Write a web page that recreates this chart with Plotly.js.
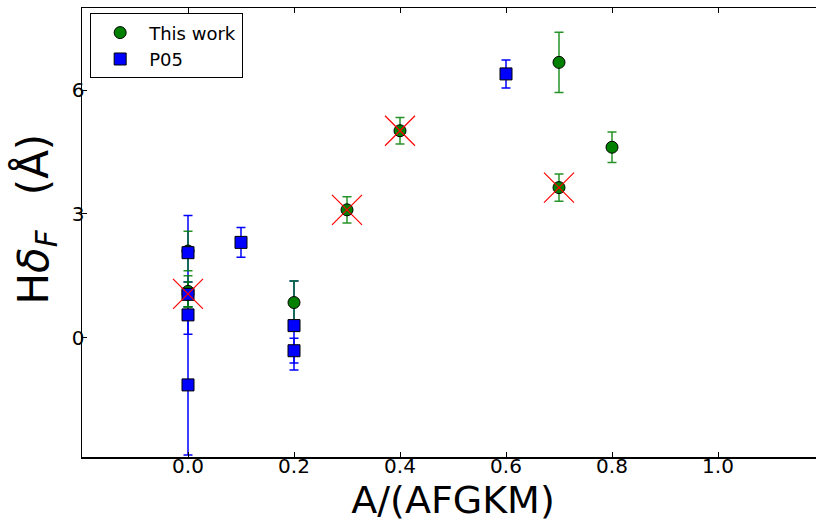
<!DOCTYPE html>
<html>
<head>
<meta charset="utf-8">
<script src="https://cdn.plot.ly/plotly-3.0.1.min.js"></script>
<style>
html,body{margin:0;padding:0;overflow:hidden;background:#fff;}
#chart{width:824px;height:522px;}
</style>
</head>
<body>
<div id="chart"></div>
<script>
// "This work" (green circles)
var workX   = [0, 0, 0, 0.2, 0.3, 0.4, 0.7, 0.7, 0.8];
var workY   = [2.1, 1.12, 1.05, 0.85, 3.1, 5.02, 6.68, 3.64, 4.62];
var workErr = [0.48, 0.38, 0.3, 0.52, 0.32, 0.32, 0.73, 0.33, 0.37];

// "P05" (blue squares)
var p05X   = [0, 0, 0, 0, 0.1, 0.2, 0.2, 0.6];
var p05Y   = [2.06, 1.05, 0.55, -1.15, 2.31, 0.29, -0.32, 6.4];
var p05Err = [0.9, 0.3, 0.47, 1.7, 0.36, 1.08, 0.3, 0.34];

// crossed-out points (red X)
var crossX = [0, 0.3, 0.4, 0.7];
var crossY = [1.06, 3.1, 5.02, 3.64];

// tick labels
var xTickVals = [0, 0.2, 0.4, 0.6, 0.8, 1.0];
var xTickText = ['0.0', '0.2', '0.4', '0.6', '0.8', '1.0'];
var yTickVals = [0, 3, 6];
var yTickText = ['0', '3', '6'];

var traces = [
  { // P05 error bars (drawn beneath)
    x: p05X, y: p05Y, type: 'scatter', mode: 'markers',
    marker: {size: 1, opacity: 0, color: '#0000ff'},
    error_y: {type: 'data', array: p05Err, visible: true, color: '#0000ff', thickness: 1.5, width: 4.5},
    showlegend: false, hoverinfo: 'skip'
  },
  {
    x: workX, y: workY, type: 'scatter', mode: 'markers', name: 'This work',
    marker: {symbol: 'circle', size: 12, color: '#008000', line: {color: '#000000', width: 1}},
    error_y: {type: 'data', array: workErr, visible: true, color: 'rgba(0,128,0,0.85)', thickness: 1.5, width: 4.5}
  },
  {
    x: p05X, y: p05Y, type: 'scatter', mode: 'markers', name: 'P05',
    marker: {symbol: 'square', size: 12, color: '#0000ff', line: {color: '#000000', width: 1}}
  },
  {
    x: crossX, y: crossY, type: 'scatter', mode: 'markers', showlegend: false,
    marker: {symbol: 'x-thin', size: 30, color: '#ff0000', line: {color: '#ff0000', width: 1.2}}
  }
];

var axisCommon = {
  showgrid: false, zeroline: false, showline: true, linecolor: '#000', linewidth: 1.5,
  mirror: 'ticks', ticks: 'inside', ticklen: 5, tickwidth: 1, tickcolor: '#000',
  tickfont: {family: 'DejaVu Sans', size: 20, color: '#000'}
};

var layout = {
  width: 824, height: 522,
  margin: {l: 82, r: 0, t: 8, b: 65},
  paper_bgcolor: '#fff', plot_bgcolor: '#fff',
  font: {family: 'DejaVu Sans', color: '#000'},
  xaxis: Object.assign({}, axisCommon, {
    range: [-0.2, 1.2], tickvals: xTickVals, ticktext: xTickText,
    ticklabelstandoff: -10,
    title: {text: 'A/(AFGKM)', font: {family: 'DejaVu Sans', size: 38, color: '#000'}, standoff: 14}
  }),
  yaxis: Object.assign({}, axisCommon, {
    range: [-2.9, 8], tickvals: yTickVals, ticktext: yTickText,
    ticklabelstandoff: -8,
    title: {text: '&nbsp;&nbsp;H<i>δ</i><sub><i>F</i></sub>&nbsp;&nbsp;\u2009(Å)', font: {family: 'DejaVu Sans', size: 42, color: '#000'}, standoff: 10}
  }),
  legend: {
    x: 0.011, y: 0.988, xanchor: 'left', yanchor: 'top',
    bgcolor: '#fff', bordercolor: '#000', borderwidth: 1,
    font: {family: 'DejaVu Sans', size: 18, color: '#000'},
    itemwidth: 48, tracegroupgap: 0
  },
  showlegend: true
};

Plotly.newPlot('chart', traces, layout, {displayModeBar: false, staticPlot: true});
</script>
</body>
</html>
